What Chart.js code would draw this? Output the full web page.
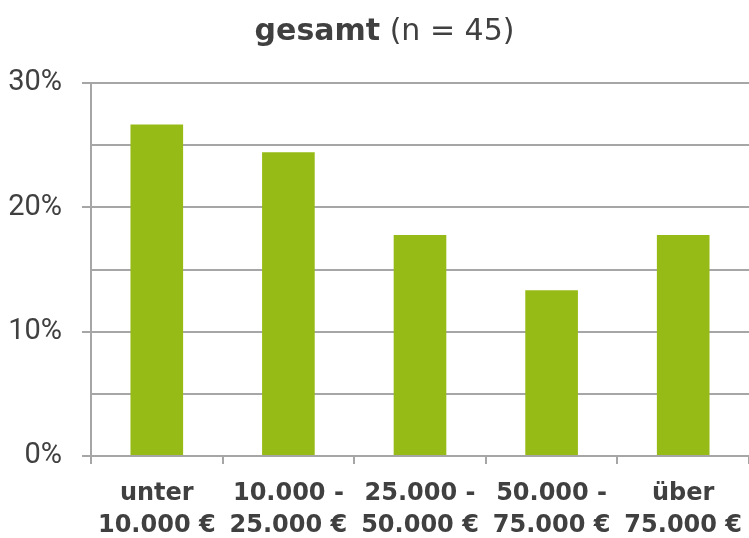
<!DOCTYPE html>
<html>
<head>
<meta charset="utf-8">
<script src="https://cdn.jsdelivr.net/npm/chart.js@4/dist/chart.umd.min.js"></script>
<style>
  html, body { margin: 0; padding: 0; background: #fff; }
  #wrap { position: relative; width: 749px; height: 538px; }
  #title { position: absolute; left: 10px; top: 12px; width: 749px; text-align: center;
           font-family: "DejaVu Sans", sans-serif; font-size: 30px; line-height: 36px; color: #404040; }
  canvas { position: absolute; left: 0; top: 0; }
</style>
</head>
<body>
<div id="wrap">
  <canvas id="c" width="749" height="538"></canvas>
  <div id="title"><b>gesamt</b> (n = 45)</div>
</div>
<script>
const categories = [
  ["unter", "10.000 €"],
  ["10.000 -", "25.000 €"],
  ["25.000 -", "50.000 €"],
  ["50.000 -", "75.000 €"],
  ["über", "75.000 €"]
];
const shares = [26.67, 24.44, 17.78, 13.33, 17.78];
const yTicks = [0, 10, 20, 30];

const gridColor = '#A6A6A6';
const textColor = '#404040';

new Chart(document.getElementById('c'), {
  type: 'bar',
  data: {
    labels: categories,
    datasets: [{
      data: shares,
      backgroundColor: '#97BB16',
      borderWidth: 0,
      barPercentage: 0.4,
      categoryPercentage: 1.0
    }]
  },
  options: {
    responsive: false,
    animation: false,
    layout: { padding: { top: 83, right: 0, left: 0, bottom: 0 } },
    plugins: { legend: { display: false }, tooltip: { enabled: false }, title: { display: false } },
    scales: {
      x: {
        offset: true,
        grid: { display: true, drawOnChartArea: false, drawTicks: true, tickLength: 8, offset: true, color: gridColor, lineWidth: 2 },
        border: { display: true, color: gridColor, width: 2 },
        ticks: {
          color: textColor,
          padding: 14,
          maxRotation: 0,
          autoSkip: false,
          font: { family: "DejaVu Sans", size: 24, weight: 'bold', lineHeight: 1.34 }
        },
        afterFit: (s) => { s.height = 82; s.paddingRight = 0; s.paddingLeft = 0; }
      },
      y: {
        min: 0,
        max: 30,
        grid: {
          color: gridColor,
          lineWidth: 2,
          drawTicks: true,
          tickLength: 9,
          tickColor: (ctx) => (ctx.tick && yTicks.includes(ctx.tick.value)) ? gridColor : 'rgba(0,0,0,0)'
        },
        border: { display: true, color: gridColor, width: 2 },
        ticks: {
          stepSize: 5,
          color: textColor,
          padding: 20,
          callback: (v) => yTicks.includes(v) ? v + '%' : '',
          font: { family: "Roboto, sans-serif", size: 29 }
        },
        afterFit: (s) => { s.width = 91; }
      }
    }
  }
});
</script>
</body>
</html>
